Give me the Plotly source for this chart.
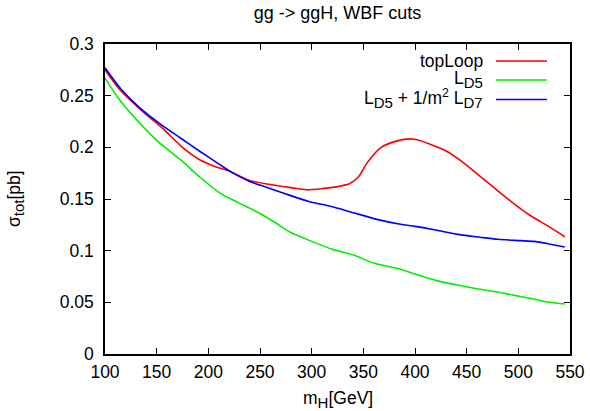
import plotly.graph_objects as go

# --- data ---
red_x = [100, 115, 135, 155, 175, 190, 205, 220, 240, 260, 280, 295, 310, 325, 337, 345, 353, 366, 382, 398, 431, 447, 463, 480, 495, 510, 530, 545]
red_y = [0.275, 0.255, 0.236, 0.219, 0.200, 0.189, 0.182, 0.177, 0.168, 0.164, 0.161, 0.159, 0.160, 0.162, 0.165, 0.171, 0.184, 0.199, 0.206, 0.208, 0.196, 0.185, 0.172, 0.158, 0.146, 0.135, 0.123, 0.1135]

green_x = [100, 114, 134, 153, 173, 192, 211, 230, 250, 265, 279, 300, 321, 340, 360, 386, 398, 421, 440, 463, 480, 495, 511, 530, 545]
green_y = [0.267, 0.246, 0.223, 0.204, 0.188, 0.171, 0.156, 0.146, 0.136, 0.127, 0.118, 0.109, 0.101, 0.096, 0.088, 0.082, 0.078, 0.071, 0.067, 0.0626, 0.060, 0.057, 0.054, 0.050, 0.0484]

blue_x = [100, 115, 134, 153, 173, 192, 210, 224, 240, 250, 273, 298, 318, 337, 363, 386, 400, 420, 440, 463, 480, 502, 515, 530, 545]
blue_y = [0.277, 0.257, 0.238, 0.223, 0.209, 0.196, 0.184, 0.175, 0.167, 0.1635, 0.1555, 0.1474, 0.143, 0.1377, 0.1303, 0.1255, 0.1235, 0.120, 0.116, 0.113, 0.111, 0.1097, 0.109, 0.1065, 0.1035]

SUB = '<sub><span style="font-size:15px">{}</span></sub>'
series_names = ["topLoop",
                "L" + SUB.format("D5"),
                "L" + SUB.format("D5") + " + 1/m<sup>2</sup> L" + SUB.format("D7")]
series_colors = ["#ff0000", "#00ee00", "#0000ff"]

x_ticks = [100, 150, 200, 250, 300, 350, 400, 450, 500, 550]
y_ticks = [0, 0.05, 0.1, 0.15, 0.2, 0.25, 0.3]
y_ticklabels = ["0", "0.05", "0.1", "0.15", "0.2", "0.25", "0.3"]

title_text = "gg -> ggH, WBF cuts"
x_title = "m" + SUB.format("H") + "[GeV]"
y_title = "σ" + SUB.format("tot") + "[pb]"

FONT = "Liberation Sans, Arial, sans-serif"
FS = 17.5

W, H = 590, 411
ML, MR, MT, MB = 105, 20, 44, 57
PW, PH = W - ML - MR, H - MT - MB


def px2paper(x):
    return (x - ML) / PW


def py2paper(y):
    return (H - MB - y) / PH


fig = go.Figure()
for xs, ys, name, col in zip([red_x, green_x, blue_x], [red_y, green_y, blue_y], series_names, series_colors):
    fig.add_trace(go.Scatter(x=xs, y=ys, mode="lines", name=name,
                             line=dict(color=col, width=1.6, shape="spline", smoothing=0.8),
                             showlegend=False, hoverinfo="skip"))

# custom gnuplot-style legend (text right-aligned, sample line to the right)
line_py = [61, 80, 99.5]
text_py = [61.5, 79, 98]
for name, col, lp, tp in zip(series_names, series_colors, line_py, text_py):
    fig.add_annotation(x=px2paper(485), y=py2paper(tp), xref="paper", yref="paper", text=name,
                       showarrow=False, xanchor="right", yanchor="middle",
                       font=dict(family=FONT, size=FS, color="black"))
    fig.add_shape(type="line", xref="paper", yref="paper", x0=px2paper(496), x1=px2paper(547),
                  y0=py2paper(lp), y1=py2paper(lp), line=dict(color=col, width=1.6))

# axis titles
fig.add_annotation(x=px2paper(337.5), y=py2paper(399), xref="paper", yref="paper", text=x_title,
                   showarrow=False, xanchor="center", yanchor="middle",
                   font=dict(family=FONT, size=FS, color="black"))
fig.add_annotation(x=px2paper(15), y=py2paper(199), xref="paper", yref="paper", text=y_title,
                   showarrow=False, xanchor="center", yanchor="middle", textangle=-90,
                   font=dict(family=FONT, size=FS, color="black"))

axis_common = dict(showgrid=False, zeroline=False, showline=True, linecolor="black",
                   linewidth=1.5, mirror="allticks", ticks="inside", ticklen=6,
                   tickcolor="black", tickwidth=1, automargin=False,
                   tickfont=dict(family=FONT, size=FS, color="black"))

fig.update_xaxes(range=[100, 550], tickvals=x_ticks, ticktext=[str(v) for v in x_ticks],
                 ticklabelstandoff=1, **axis_common)
fig.update_yaxes(range=[0, 0.3], tickvals=y_ticks, ticktext=y_ticklabels,
                 ticklabelstandoff=6, **axis_common)

fig.update_layout(
    width=W, height=H,
    margin=dict(l=ML, r=MR, t=MT, b=MB, autoexpand=False),
    paper_bgcolor="white", plot_bgcolor="white",
    hovermode=False,
    title=dict(text=title_text, x=0.5, xanchor="center", xref="paper",
               y=1 - 12.5 / H, yanchor="middle", automargin=False,
               font=dict(family=FONT, size=18, color="black")),
)

fig.write_html("out.html", config={"displayModeBar": False},
               post_script="document.body.style.margin='0';document.body.style.padding='0';")
